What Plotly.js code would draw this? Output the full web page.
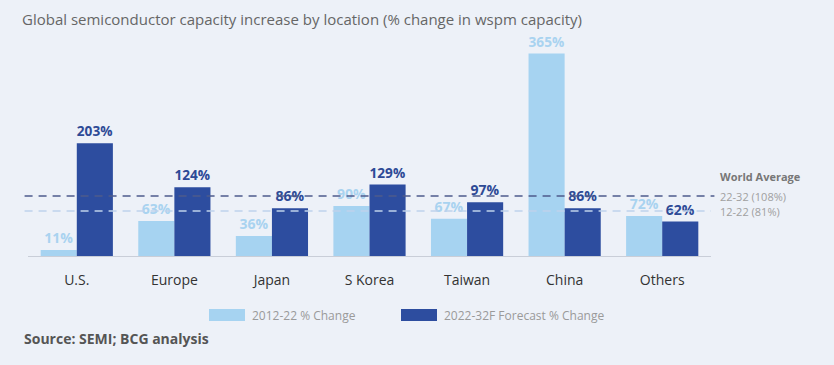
<!DOCTYPE html>
<html>
<head>
<meta charset="utf-8">
<script src="https://cdn.plot.ly/plotly-3.0.1.min.js"></script>
<style>html,body{margin:0;padding:0;background:#edf1f8;}#chart{width:834px;height:365px;}</style>
</head>
<body>
<div id="chart"></div>
<script>
const categories = ["U.S.", "Europe", "Japan", "S Korea", "Taiwan", "China", "Others"];
const change2012_22 = [11, 63, 36, 90, 67, 365, 72];
const forecast2022_32 = [203, 124, 86, 129, 97, 86, 62];
const seriesNames = ["2012-22 % Change", "2022-32F Forecast % Change"];
const worldAvg = [108, 81];
const worldAvgLabels = ["22-32 (108%)", "12-22 (81%)"];

const LIGHT = "#a6d3f1";
const DARK = "#2d4d9f";
const FONT = "Open Sans, sans-serif";

// pixel helpers for paper coordinates
const L = 28, R = 711, T = 34, B = 256;
const px = x => (x - L) / (R - L);
const py = y => (B - y) / (B - T);

const traces = [
  {type: "bar", x: categories, y: change2012_22, name: seriesNames[0],
   marker: {color: LIGHT}, texttemplate: "%{y}%", textposition: "outside",
   textfont: {family: FONT, size: 14, color: "#a9d3f0", weight: 700}, cliponaxis: false},
  {type: "bar", x: categories, y: forecast2022_32, name: seriesNames[1],
   marker: {color: DARK}, texttemplate: "%{y}%", textposition: "outside",
   textfont: {family: FONT, size: 14, color: "#2d4a96", weight: 700}, cliponaxis: false}
];

const shapes = [
  {type: "line", xref: "paper", yref: "y", x0: -0.005, x1: 1.005, y0: worldAvg[0], y1: worldAvg[0],
   line: {color: "#4d5b8c", width: 1.5, dash: "8px,6px"}, layer: "above"},
  {type: "line", xref: "paper", yref: "y", x0: -0.005, x1: 1.0, y0: worldAvg[1], y1: worldAvg[1],
   line: {color: "#bfd2ec", width: 1.5, dash: "8px,6px"}, layer: "above"},
  {type: "rect", xref: "paper", yref: "paper", x0: px(209), x1: px(245), y0: py(321), y1: py(309),
   fillcolor: LIGHT, line: {width: 0}},
  {type: "rect", xref: "paper", yref: "paper", x0: px(401), x1: px(437), y0: py(321), y1: py(309),
   fillcolor: DARK, line: {width: 0}}
];

const annotations = [
  {xref: "paper", yref: "paper", x: px(718), y: py(176), xanchor: "left", yanchor: "middle",
   text: "<b>World Average</b>", showarrow: false, font: {family: FONT, size: 11, color: "#777"}},
  {xref: "paper", yref: "y", x: px(718), y: worldAvg[0], xanchor: "left", yanchor: "middle",
   text: worldAvgLabels[0], showarrow: false, font: {family: FONT, size: 11, color: "#a0a0a0"}},
  {xref: "paper", yref: "y", x: px(718), y: worldAvg[1], xanchor: "left", yanchor: "middle",
   text: worldAvgLabels[1], showarrow: false, font: {family: FONT, size: 11, color: "#a0a0a0"}},
  {xref: "paper", yref: "paper", x: px(250), y: py(315), xanchor: "left", yanchor: "middle",
   text: seriesNames[0], showarrow: false, font: {family: FONT, size: 12, color: "#9a9a9a"}},
  {xref: "paper", yref: "paper", x: px(442), y: py(315), xanchor: "left", yanchor: "middle",
   text: seriesNames[1], showarrow: false, font: {family: FONT, size: 12, color: "#9a9a9a"}},
  {xref: "paper", yref: "paper", x: px(22), y: py(338), xanchor: "left", yanchor: "middle",
   text: "<b>Source: SEMI; BCG analysis</b>", showarrow: false, font: {family: FONT, size: 14, color: "#555"}}
];

const layout = {
  width: 834, height: 365,
  paper_bgcolor: "#edf1f8", plot_bgcolor: "#edf1f8",
  margin: {l: L, r: 834 - R, t: T, b: 365 - B, pad: 0},
  title: {text: "Global semiconductor capacity increase by location (% change in wspm capacity)",
          x: 22 / 834, xanchor: "left", y: 1 - 20 / 365, yanchor: "middle",
          font: {family: FONT, size: 15, color: "#666"}},
  barmode: "group", bargap: 0.26, bargroupgap: 0,
  showlegend: false,
  xaxis: {showline: true, linecolor: "#c9ced8", linewidth: 1, ticks: "", showgrid: false,
          tickfont: {family: FONT, size: 14, color: "#333"}, ticklabelstandoff: 11, fixedrange: true},
  yaxis: {range: [0, 400], visible: false, showgrid: false, zeroline: false, fixedrange: true},
  shapes: shapes, annotations: annotations,
  font: {family: FONT}
};

Plotly.newPlot("chart", traces, layout, {displayModeBar: false, staticPlot: true});
</script>
</body>
</html>
